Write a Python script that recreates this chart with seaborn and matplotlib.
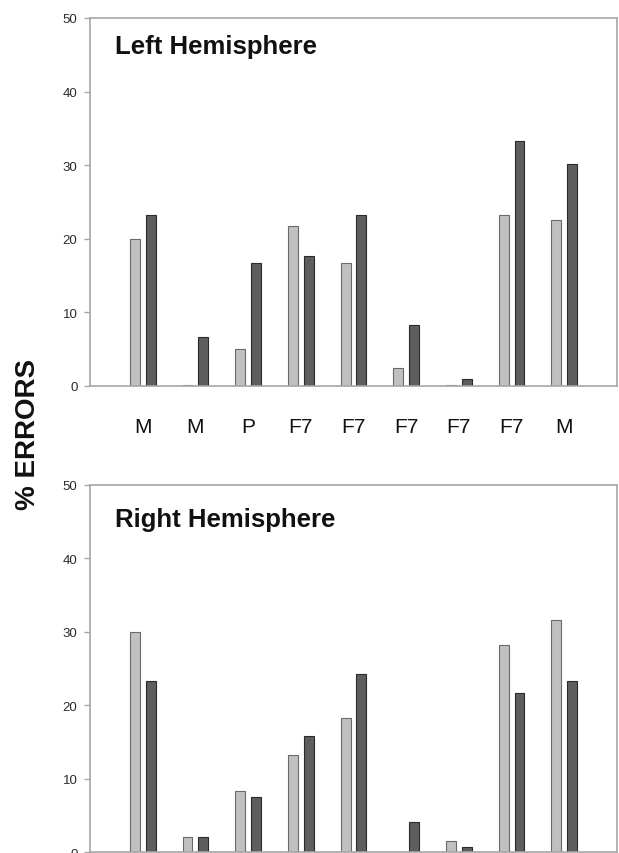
import pandas as pd
import matplotlib
matplotlib.use("Agg")
import matplotlib.pyplot as plt
import seaborn as sns

# Dados
sites = ["M", "M", "P", "F7", "F7", "F7", "F7", "F7", "M"]
conditions = ["A", "B"]

left_a = [20.0, 0.2, 5.0, 21.7, 16.7, 2.4, 0.2, 23.2, 22.5]
left_b = [23.2, 6.6, 16.7, 17.6, 23.2, 8.3, 0.9, 33.3, 30.1]

right_a = [30.0, 2.1, 8.3, 13.2, 18.3, 0.1, 1.6, 28.2, 31.6]
right_b = [23.3, 2.1, 7.5, 15.8, 24.2, 4.1, 0.7, 21.7, 23.3]

light = "#c0c0c0"
dark = "#5e5e5e"
spine_col = "#a6a6a6"


def long_form(a, b):
    rows = []
    for i in range(len(sites)):
        rows.append({"pos": i, "cond": "A", "err": a[i]})
        rows.append({"pos": i, "cond": "B", "err": b[i]})
    return pd.DataFrame(rows)


sns.set_theme(style="white")
plt.rcParams["font.family"] = ["Liberation Sans", "DejaVu Sans"]

W, H = 619, 854
fig = plt.figure(figsize=(W / 100, H / 100), dpi=100)

# posicoes dos eixos em pixels (esq, topo, dir, base)
boxes = [(90, 19, 617, 387), (90, 485.5, 617, 853.3)]
panels = [
    ("Left Hemisphere", left_a, left_b, 0.925, True),
    ("Right Hemisphere", right_a, right_b, 0.905, False),
]

for (x0, y0, x1, y1), (title, a, b, ty, show_x) in zip(boxes, panels):
    ax = fig.add_axes([x0 / W, 1 - y1 / H, (x1 - x0) / W, (y1 - y0) / H])
    df = long_form(a, b)
    sns.barplot(data=df, x="pos", y="err", hue="cond", hue_order=conditions,
                palette=[light, dark], width=0.6, gap=0.37, legend=False,
                ax=ax, linewidth=0.8)

    # bordas das barras
    for p in ax.patches:
        fc = matplotlib.colors.to_hex(p.get_facecolor())
        p.set_edgecolor("#6a6a6a" if fc == light else "#2a2a2a")

    ax.set_xlim(-1, len(sites))
    ax.set_ylim(0, 50)
    ax.set_yticks(range(0, 51, 10))
    ax.set_xticks(range(len(sites)))
    if show_x:
        ax.set_xticklabels(sites, fontsize=15, color="#111111")
    else:
        ax.set_xticklabels([])
    ax.tick_params(axis="x", length=0, pad=22)
    ax.tick_params(axis="y", length=4, width=1, color=spine_col,
                   labelsize=9.5, labelcolor="#2a2a2a", pad=5, left=True)
    ax.set_xlabel("")
    ax.set_ylabel("")

    for s in ax.spines.values():
        s.set_visible(True)
        s.set_color(spine_col)
        s.set_linewidth(1.2)

    ax.text(0.047, ty, title, transform=ax.transAxes, fontsize=18.5,
            fontweight="bold", va="center", ha="left", color="#111111")

fig.text(28 / W, 1 - 434 / H, "% ERRORS", rotation=90, fontsize=20,
         fontweight="bold", ha="center", va="center", color="#111111")

fig.savefig("out.png", dpi=100)
plt.close(fig)
